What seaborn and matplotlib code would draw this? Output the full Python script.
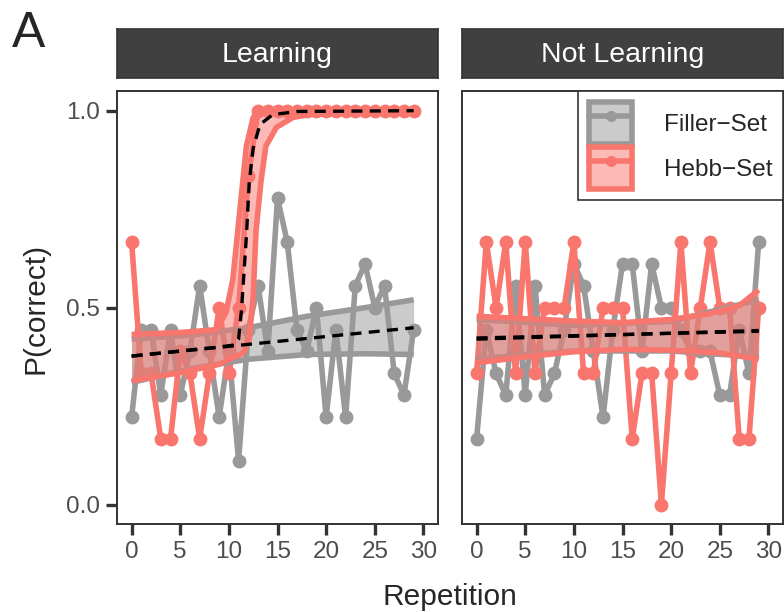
import matplotlib
matplotlib.use('Agg')
import matplotlib.pyplot as plt
from matplotlib.colors import to_rgba
from matplotlib.lines import Line2D
from matplotlib.patches import Patch
import numpy as np
import pandas as pd
import seaborn as sns

# data (proportion correct per repetition)
reps = list(range(30))
learn_filler = [0.222, 0.444, 0.444, 0.278, 0.444, 0.278, 0.389, 0.556, 0.389, 0.222,
                0.389, 0.111, 0.444, 0.556, 0.389, 0.778, 0.667, 0.444, 0.389, 0.5,
                0.222, 0.444, 0.222, 0.556, 0.611, 0.5, 0.556, 0.333, 0.278, 0.444]
learn_hebb = [0.667, 0.333, 0.333, 0.167, 0.167, 0.389, 0.333, 0.167, 0.333, 0.5,
              0.333, 0.5, 0.833, 1.0, 1.0, 1.0, 1.0, 1.0, 1.0, 1.0,
              1.0, 1.0, 1.0, 1.0, 1.0, 1.0, 1.0, 1.0, 1.0, 1.0]
not_filler = [0.167, 0.444, 0.333, 0.278, 0.556, 0.278, 0.556, 0.278, 0.333, 0.444,
              0.611, 0.556, 0.389, 0.222, 0.444, 0.611, 0.611, 0.389, 0.611, 0.5,
              0.5, 0.444, 0.389, 0.389, 0.389, 0.278, 0.278, 0.444, 0.333, 0.667]
not_hebb = [0.333, 0.667, 0.5, 0.667, 0.333, 0.667, 0.333, 0.5, 0.5, 0.5,
            0.667, 0.333, 0.333, 0.5, 0.5, 0.5, 0.167, 0.333, 0.333, 0.0,
            0.333, 0.667, 0.333, 0.5, 0.667, 0.5, 0.5, 0.167, 0.167, 0.5]

# smooth fits and their confidence bands
learn_filler_fit_x = [0, 29]
learn_filler_fit_y = [0.377, 0.449]
learn_filler_band_x = [0, 6, 12, 18, 24, 29]
learn_filler_band_lo = [0.31, 0.345, 0.369, 0.381, 0.383, 0.381]
learn_filler_band_hi = [0.42, 0.43, 0.449, 0.478, 0.50, 0.52]

learn_hebb_fit_x = [0, 5, 9, 10.5, 11, 11.3, 11.8, 12.1, 12.5, 13.2, 14.5, 17, 29]
learn_hebb_fit_y = [0.377, 0.39, 0.40, 0.405, 0.42, 0.495, 0.68, 0.82, 0.905, 0.965, 0.99, 0.998, 1.0]
learn_hebb_hi_x = [0, 5, 8.7, 9.7, 10.4, 11.1, 11.8, 12.5, 13.2, 29]
learn_hebb_hi_y = [0.432, 0.437, 0.444, 0.487, 0.57, 0.74, 0.91, 0.983, 1.0, 1.0]
learn_hebb_lo_x = [0, 5, 9, 11.5, 12.1, 12.5, 12.8, 13.3, 13.8, 14.9, 16.6, 18.3, 29]
learn_hebb_lo_y = [0.314, 0.335, 0.356, 0.385, 0.42, 0.53, 0.697, 0.82, 0.91, 0.958, 0.983, 0.99, 1.0]

not_filler_fit_x = [0, 29]
not_filler_fit_y = [0.42, 0.442]
not_filler_band_x = [0, 10, 20, 29]
not_filler_band_lo = [0.37, 0.39, 0.39, 0.375]
not_filler_band_hi = [0.47, 0.455, 0.465, 0.52]

not_hebb_fit_x = [0, 29]
not_hebb_fit_y = [0.423, 0.44]
not_hebb_hi_x = [0, 5, 10, 15, 20, 24, 27, 29]
not_hebb_hi_y = [0.478, 0.472, 0.466, 0.462, 0.47, 0.485, 0.505, 0.545]
not_hebb_lo_x = [0, 5, 10, 15, 20, 25, 29]
not_hebb_lo_y = [0.36, 0.375, 0.388, 0.394, 0.392, 0.385, 0.369]

panels = ['Learning', 'Not Learning']
sets = ['Filler\u2212Set', 'Hebb\u2212Set']
colors = {sets[0]: '#999999', sets[1]: '#F8766D'}

df = pd.DataFrame({
    'rep': reps * 4,
    'p': learn_filler + learn_hebb + not_filler + not_hebb,
    'set': [sets[0]] * 30 + [sets[1]] * 30 + [sets[0]] * 30 + [sets[1]] * 30,
    'panel': [panels[0]] * 60 + [panels[1]] * 60,
})

bands = {
    (panels[0], sets[0]): (learn_filler_band_x, learn_filler_band_lo, learn_filler_band_x, learn_filler_band_hi),
    (panels[0], sets[1]): (learn_hebb_lo_x, learn_hebb_lo_y, learn_hebb_hi_x, learn_hebb_hi_y),
    (panels[1], sets[0]): (not_filler_band_x, not_filler_band_lo, not_filler_band_x, not_filler_band_hi),
    (panels[1], sets[1]): (not_hebb_lo_x, not_hebb_lo_y, not_hebb_hi_x, not_hebb_hi_y),
}
fits = {
    (panels[0], sets[0]): (learn_filler_fit_x, learn_filler_fit_y),
    (panels[0], sets[1]): (learn_hebb_fit_x, learn_hebb_fit_y),
    (panels[1], sets[0]): (not_filler_fit_x, not_filler_fit_y),
    (panels[1], sets[1]): (not_hebb_fit_x, not_hebb_fit_y),
}

sns.set_theme(style='white')
plt.rcParams['font.family'] = ['Liberation Sans', 'DejaVu Sans']

W, H = 784, 612
fig = plt.figure(figsize=(W / 100, H / 100), dpi=100)

LW = 4.0
MS = 10
axes = []
for k, panel in enumerate(panels):
    left = [117, 462][k]
    ax = fig.add_axes([left / W, (H - 524.3) / H, 321 / W, (524.3 - 91) / H])
    strip = fig.add_axes([left / W, (H - 78.3) / H, 321 / W, 49.6 / H])
    strip.set_facecolor('#404040')
    strip.set_xticks([])
    strip.set_yticks([])
    for sp in strip.spines.values():
        sp.set_color('#333333')
        sp.set_linewidth(1.2)
    strip.text(0.5, 0.47, panel, color='white', fontsize=20.5, ha='center', va='center',
               transform=strip.transAxes)

    sub = df[df['panel'] == panel]
    sns.lineplot(data=sub, x='rep', y='p', hue='set', hue_order=sets, palette=colors,
                 marker='o', markersize=MS, markeredgewidth=0, linewidth=LW,
                 errorbar=None, legend=False, ax=ax)

    # ribbons (fill + outline) drawn above the raw lines
    for s in sets:
        lx, ly, hx, hy = bands[(panel, s)]
        xs = sorted(set(lx) | set(hx))
        ax.fill_between(xs, np.interp(xs, lx, ly), np.interp(xs, hx, hy),
                        color=colors[s], alpha=0.5, lw=0, zorder=3)
        ax.plot(lx, ly, color=colors[s], lw=LW, zorder=3, solid_capstyle='butt')
        ax.plot(hx, hy, color=colors[s], lw=LW, zorder=3, solid_capstyle='butt')
    for s in sets:
        fx, fy = fits[(panel, s)]
        ax.plot(fx, fy, color='black', lw=2.4, ls=(0, (3.3, 2.2)), zorder=4)

    ax.set_xlim(-1.5, 31.5)
    ax.set_ylim(-0.05, 1.05)
    ax.set_xticks([0, 5, 10, 15, 20, 25, 30])
    ax.set_yticks([0.0, 0.5, 1.0])
    ax.set_yticklabels(['0.0', '0.5', '1.0'])
    ax.set_xlabel('')
    ax.set_ylabel('')
    ax.tick_params(bottom=True, left=(k == 0), labelleft=(k == 0), length=8, width=2.4,
                   color='#333333', labelcolor='#4d4d4d', labelsize=17.5, pad=4)
    for sp in ax.spines.values():
        sp.set_color('#333333')
        sp.set_linewidth(1.4)
    axes.append(ax)

handles = []
for s in sets:
    handles.append((Patch(facecolor=to_rgba(colors[s], 0.5), edgecolor=colors[s], linewidth=LW),
                    Line2D([], [], color=colors[s], lw=LW, marker='o', markersize=MS * 0.8,
                           markeredgewidth=0)))
leg = axes[1].legend(handles, sets, loc='upper right', bbox_to_anchor=(1, 1), borderaxespad=0,
                     fontsize=17.5, handlelength=1.75, handleheight=2.3, handletextpad=1.3,
                     labelspacing=0.12, borderpad=0.45, frameon=True, fancybox=False,
                     edgecolor='#333333', framealpha=1)
leg.get_frame().set_linewidth(1.2)

fig.text(11.7 / W, 1 - 46.7 / H, 'A', fontsize=36, ha='left', va='baseline')
fig.text(36 / W, 1 - 308 / H, 'P(correct)', fontsize=21.5, rotation=90, ha='center', va='center')
fig.text(450 / W, 1 - 605 / H, 'Repetition', fontsize=21.5, ha='center', va='baseline')

fig.savefig('out.png', dpi=100)
